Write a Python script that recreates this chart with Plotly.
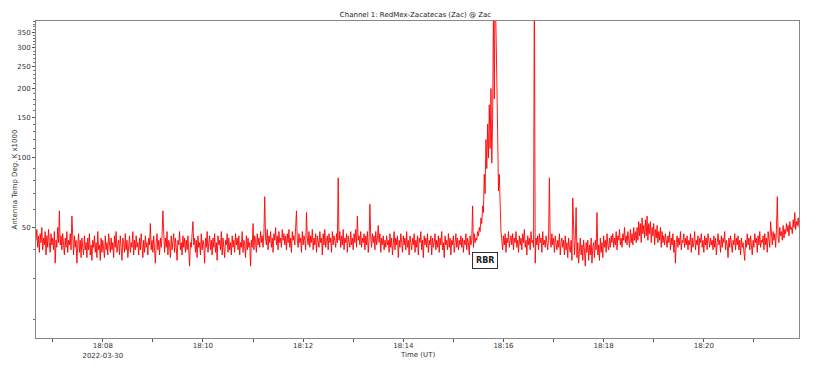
import math
import pandas as pd
import plotly.graph_objects as go

start_time = "2022-03-30 18:06:40"
step_seconds = 1

antenna_temp = [
    44, 49, 41, 46, 39, 47, 43, 50, 40, 45, 42, 48, 38, 46, 41, 49, 43, 39, 47, 42, 45, 40, 48, 35, 44, 41, 50, 43, 59, 42,
    46, 40, 47, 42, 38, 45, 41, 48, 39, 44, 42, 47, 40, 56, 43, 38, 46, 41, 44, 35, 42, 47, 39, 44, 37, 45, 41, 38, 46, 40,
    43, 37, 45, 40, 47, 38, 42, 36, 44, 41, 46, 39, 43, 37, 48, 40, 42, 36, 45, 39, 44, 41, 37, 46, 40, 43, 38, 47, 41, 39,
    45, 40, 43, 37, 46, 41, 48, 39, 42, 44, 38, 46, 41, 36, 45, 43, 39, 47, 40, 44, 37, 42, 46, 39, 43, 41, 48, 38, 44, 40,
    46, 41, 43, 38, 45, 40, 47, 42, 37, 44, 39, 46, 41, 43, 38, 45, 42, 52, 40, 44, 39, 46, 41, 35, 43, 47, 40, 44, 38, 45,
    41, 46, 59, 43, 39, 45, 41, 48, 38, 44, 42, 37, 46, 40, 43, 47, 39, 45, 41, 36, 44, 42, 48, 40, 43, 38, 46, 41, 45, 39,
    44, 40, 46, 38, 34, 43, 41, 47, 53, 42, 45, 39, 44, 37, 46, 41, 43, 38, 47, 40, 44, 42, 35, 45, 41, 48, 39, 43, 46, 40,
    44, 38, 45, 41, 47, 39, 43, 36, 46, 42, 44, 40, 48, 38, 45, 41, 37, 44, 42, 47, 39, 45, 40, 43, 38, 46, 41, 44, 39, 47,
    42, 45, 40, 46, 38, 43, 41, 48, 39, 44, 42, 37, 46, 40, 45, 41, 43, 34, 44, 41, 52, 40, 46, 43, 39, 47, 42, 45, 41, 48,
    43, 46, 41, 47, 68, 45, 42, 49, 40, 46, 43, 48, 41, 45, 39, 47, 44, 50, 42, 46, 40, 48, 43, 45, 41, 49, 44, 47, 42, 46,
    40, 47, 43, 49, 41, 45, 39, 48, 44, 46, 42, 50, 59, 44, 41, 47, 43, 45, 39, 48, 42, 46, 44, 40, 58, 45, 42, 48, 41, 46,
    43, 49, 40, 45, 42, 47, 39, 46, 44, 41, 48, 43, 45, 38, 47, 42, 49, 41, 44, 46, 40, 47, 43, 45, 39, 48, 42, 46, 44, 41,
    47, 43, 82, 44, 48, 41, 46, 42, 49, 40, 45, 43, 47, 39, 46, 44, 41, 48, 42, 45, 40, 47, 43, 49, 41, 56, 44, 46, 42, 48,
    41, 45, 43, 47, 40, 46, 42, 48, 39, 44, 63, 45, 41, 47, 43, 46, 40, 48, 42, 45, 51, 43, 47, 39, 45, 42, 46, 40, 44, 41,
    46, 42, 44, 39, 47, 41, 45, 38, 43, 48, 40, 45, 42, 46, 37, 44, 41, 47, 43, 39, 46, 42, 45, 40, 48, 41, 44, 38, 46, 43,
    40, 45, 42, 47, 39, 44, 41, 46, 38, 45, 43, 48, 40, 44, 37, 46, 42, 45, 41, 47, 39, 44, 42, 46, 38, 45, 41, 43, 47, 40,
    44, 41, 46, 39, 45, 42, 48, 40, 43, 37, 46, 42, 44, 40, 47, 41, 45, 38, 44, 42, 46, 39, 43, 47, 41, 45, 40, 44, 42, 46,
    41, 45, 39, 44, 42, 47, 40, 45, 43, 38, 46, 42, 44, 62, 41, 47, 43, 45, 44, 48, 46, 50, 48, 55, 52, 62, 58, 85, 70, 120,
    90, 140, 100, 170, 110, 200, 95, 150, 450, 180, 600, 250, 220, 130, 72, 85, 55, 48, 44, 40, 46, 42, 47, 39, 45, 43, 48, 41, 44, 46,
    42, 47, 40, 45, 43, 48, 41, 44, 39, 46, 42, 45, 40, 47, 43, 49, 41, 44, 38, 46, 42, 45, 40, 48, 43, 44, 41, 700, 35, 45,
    42, 46, 40, 47, 43, 45, 39, 48, 42, 44, 41, 46, 43, 40, 45, 82, 44, 41, 47, 42, 45, 39, 46, 43, 40, 44, 41, 47, 38, 43,
    45, 41, 44, 38, 46, 40, 43, 37, 45, 41, 39, 44, 36, 67, 42, 38, 44, 61, 37, 43, 35, 41, 45, 38, 42, 36, 44, 40, 34, 43,
    39, 44, 36, 42, 38, 45, 35, 41, 43, 37, 44, 40, 58, 38, 42, 36, 45, 39, 43, 37, 46, 41, 44, 39, 47, 42, 40, 45, 41, 46,
    43, 47, 41, 45, 42, 48, 40, 46, 44, 49, 42, 45, 41, 47, 44, 50, 43, 46, 42, 48, 45, 41, 49, 43, 47, 42, 50, 44, 48, 43,
    50, 44, 53, 46, 52, 43, 55, 47, 51, 45, 54, 46, 56, 44, 52, 47, 53, 43, 50, 46, 52, 42, 49, 45, 51, 43, 48, 44, 50, 41,
    48, 43, 46, 42, 47, 44, 41, 46, 43, 48, 40, 45, 42, 47, 39, 44, 35, 43, 46, 41, 45, 42, 48, 40, 44, 43, 47, 41, 45, 42,
    46, 40, 44, 42, 47, 39, 45, 41, 43, 48, 40, 44, 42, 46, 38, 45, 43, 47, 41, 44, 39, 46, 42, 45, 40, 47, 43, 41, 45, 42,
    44, 40, 46, 41, 45, 38, 43, 47, 42, 44, 39, 46, 41, 45, 43, 48, 40, 44, 42, 37, 45, 41, 46, 43, 39, 44, 42, 47, 40, 45,
    42, 46, 40, 44, 38, 45, 41, 43, 39, 36, 44, 41, 47, 42, 45, 40, 46, 43, 38, 44, 41, 47, 43, 45, 39, 46, 42, 48, 41, 44,
    43, 46, 40, 47, 42, 45, 39, 48, 44, 41, 53, 46, 42, 48, 44, 47, 41, 49, 68, 45, 43, 50, 46, 48, 44, 51, 45, 49, 47, 52,
    48, 51, 46, 53, 49, 50, 47, 54, 50, 58, 49, 53, 51, 55, 50,
]

times = pd.date_range(start=start_time, periods=len(antenna_temp), freq=f"{step_seconds}s")

x_range = ["2022-03-30 18:06:40", "2022-03-30 18:21:54"]
x_tick_vals = ["2022-03-30 18:08", "2022-03-30 18:10", "2022-03-30 18:12", "2022-03-30 18:14",
               "2022-03-30 18:16", "2022-03-30 18:18", "2022-03-30 18:20"]
x_tick_text = ["18:08<br>2022-03-30", "18:10", "18:12", "18:14", "18:16", "18:18", "18:20"]
x_minor_vals = ["2022-03-30 18:07", "2022-03-30 18:09", "2022-03-30 18:11", "2022-03-30 18:13",
                "2022-03-30 18:15", "2022-03-30 18:17", "2022-03-30 18:19", "2022-03-30 18:21"]
y_range = [16.6, 392]
y_tick_vals = [50, 100, 150, 200, 250, 300, 350]
y_minor_vals = [20, 30, 40, 60, 70, 80, 90] + list(range(110, 400, 10))

annotation_text = "RBR"
annotation_time = "2022-03-30 18:15:38"
annotation_value = 36

W, H = 831, 365
ML, MR, MT, MB = 36, 32, 21, 27

fig = go.Figure()
fig.add_trace(go.Scatter(
    x=times, y=antenna_temp, mode="lines",
    line=dict(color="#ff0000", width=0.9),
    showlegend=False, hoverinfo="skip",
))

font_family = "DejaVu Sans"
tick_font = dict(family=font_family, size=7, color="#333333")
plot_h = H - MT - MB
plot_w = W - ML - MR

fig.update_layout(
    width=W, height=H,
    margin=dict(l=ML, r=MR, t=MT, b=MB),
    paper_bgcolor="white", plot_bgcolor="white",
    title=dict(text="Channel 1: RedMex-Zacatecas (Zac) @ Zac",
               font=dict(family=font_family, size=7, color="#222222"),
               x=0.5, xanchor="center", y=1 - 15 / H, yanchor="middle"),
    font=dict(family=font_family, size=7, color="#333333"),
    xaxis=dict(
        type="date", range=x_range, automargin=False,
        tickmode="array", tickvals=x_tick_vals, ticktext=x_tick_text,
        ticks="outside", ticklen=3, tickcolor="#555555", tickwidth=1,
        tickfont=tick_font, ticklabelstandoff=-2,
        minor=dict(tickmode="array", tickvals=x_minor_vals, ticks="outside",
                   ticklen=3, tickcolor="#555555", showgrid=False),
        showline=True, linecolor="#888888", linewidth=1, mirror=True,
        showgrid=False, zeroline=False,
    ),
    yaxis=dict(
        type="log", range=[math.log10(y_range[0]), math.log10(y_range[1])], automargin=False,
        tickmode="array", tickvals=y_tick_vals, ticktext=[str(v) for v in y_tick_vals],
        ticks="outside", ticklen=3, tickcolor="#555555", tickwidth=1,
        tickfont=tick_font,
        minor=dict(tickmode="array", tickvals=y_minor_vals, ticks="outside",
                   ticklen=2, tickcolor="#777777", showgrid=False),
        showline=True, linecolor="#888888", linewidth=1, mirror=True,
        showgrid=False, zeroline=False,
    ),
    annotations=[
        dict(x=annotation_time, y=math.log10(annotation_value), xref="x", yref="y",
             text="<b>" + annotation_text + "</b>", showarrow=False,
             font=dict(family=font_family, size=8, color="#222222"),
             bordercolor="#333333", borderwidth=1, borderpad=3, bgcolor="white"),
        dict(x=0.5, y=-(355 - (H - MB)) / plot_h, xref="paper", yref="paper",
             text="Time (UT)", showarrow=False, xanchor="center", yanchor="middle",
             font=dict(family=font_family, size=7, color="#333333")),
        dict(x=(14 - ML) / plot_w, y=0.5, xref="paper", yref="paper", textangle=-90,
             text="Antenna Temp Deg. K x1000", showarrow=False,
             xanchor="center", yanchor="middle",
             font=dict(family=font_family, size=7, color="#333333")),
    ],
)

fig.write_html("out.html")
